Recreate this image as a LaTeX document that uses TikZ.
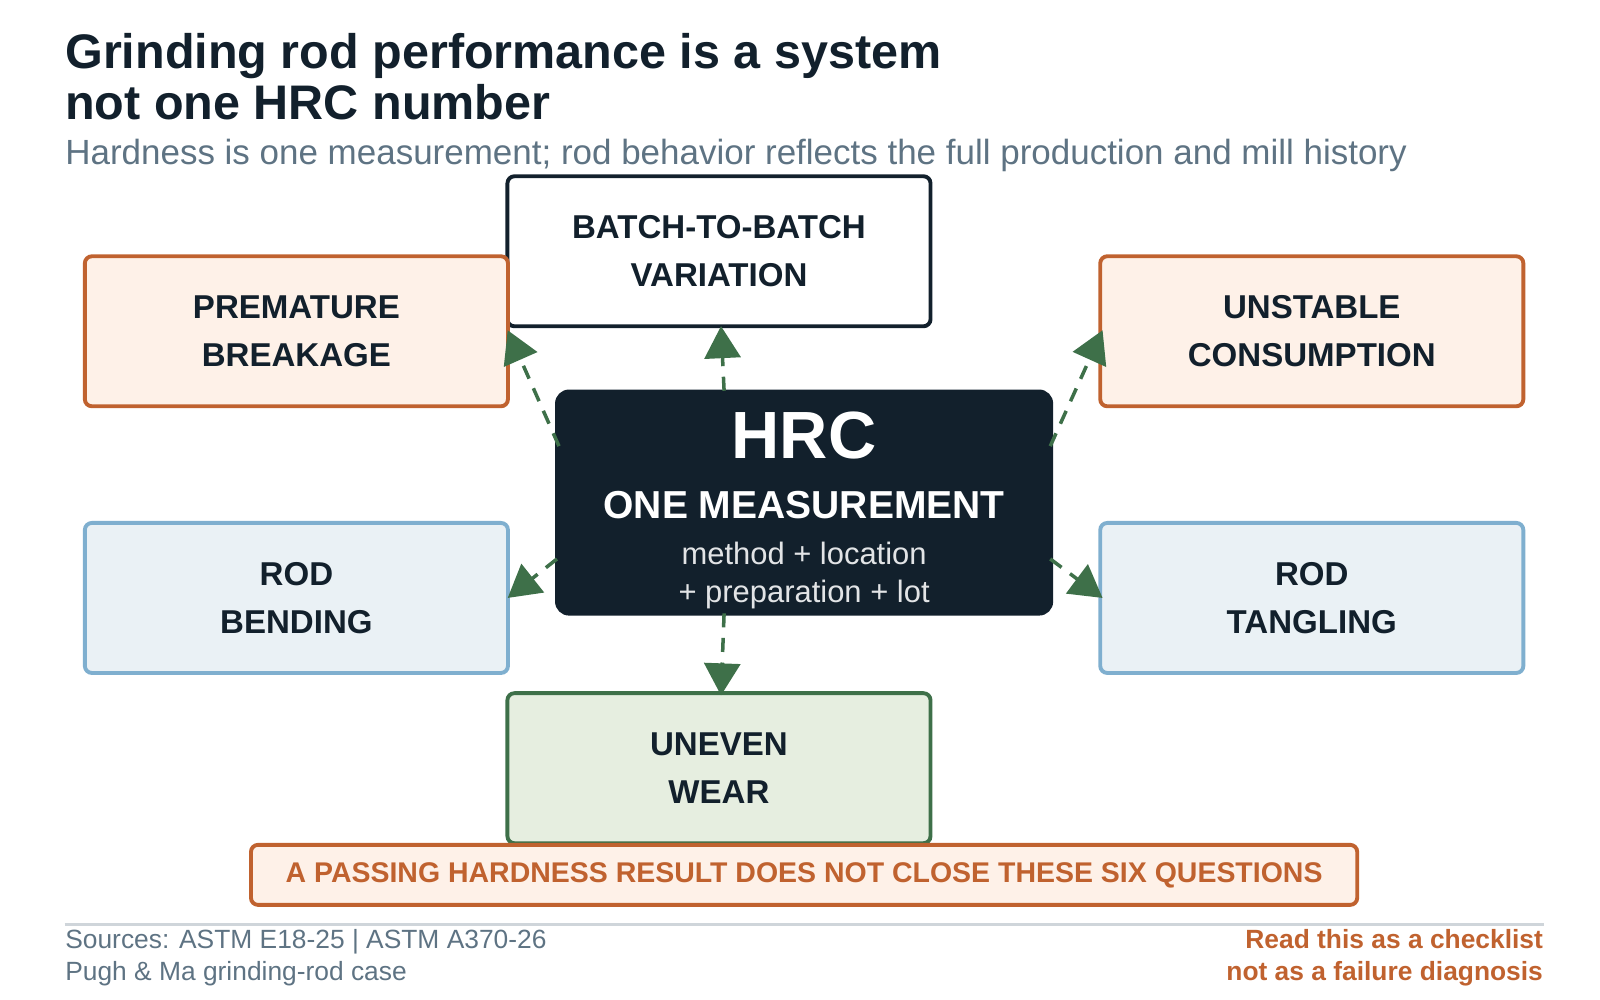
\documentclass[tikz,border=0pt]{standalone}
\usepackage{fontspec}
\setmainfont{Liberation Sans}
\usetikzlibrary{arrows.meta}
\definecolor{ink}{HTML}{12202C}
\definecolor{rust}{HTML}{C0622F}
\definecolor{rustbg}{HTML}{FEF1E8}
\definecolor{sky}{HTML}{7FAFCF}
\definecolor{skybg}{HTML}{EAF1F5}
\definecolor{moss}{HTML}{3E7049}
\definecolor{mossbg}{HTML}{E6EEE0}
\definecolor{slate}{HTML}{5E7383}
\tikzset{
  box/.style={draw, line width=1.1pt, rounded corners=2pt, minimum width=4.23cm, minimum height=1.5cm,
    align=center, font=\fontsize{9.4}{13.8}\selectfont\bfseries, text=ink},
  risk/.style={box, draw=rust, fill=rustbg},
  mech/.style={box, draw=sky, fill=skybg},
  link/.style={moss, line width=1pt, dash pattern=on 4pt off 3pt, -{Triangle[length=0.32cm,width=0.36cm]}}
}
\begin{document}
\begin{tikzpicture}[x=0.01026cm,y=-0.01026cm]
  \useasboundingbox (0,0) rectangle (1560,975);
  % heading
  \node[anchor=west, inner sep=0pt, font=\fontsize{13.8}{14.6}\selectfont\bfseries, text=ink, align=left] (title) at (63,75)
    {Grinding rod performance is a system\\not one HRC number};
  \node[anchor=west, inner sep=0pt, font=\fontsize{9.95}{11}\selectfont, text=slate] (sub) at (63,152)
    {Hardness is one measurement; rod behavior reflects the full production and mill history};
  % boxes
  \node[box, draw=ink, fill=white] (batch) at (701,245) {BATCH-TO-BATCH\\VARIATION};
  \node[risk] (break) at (289,323) {PREMATURE\\BREAKAGE};
  \node[risk] (consume) at (1279,323) {UNSTABLE\\CONSUMPTION};
  \node[mech] (bend) at (289,583) {ROD\\BENDING};
  \node[mech] (tangle) at (1279,583) {ROD\\TANGLING};
  \node[box, draw=moss, fill=mossbg] (wear) at (701,749) {UNEVEN\\WEAR};
  % center
  \node[fill=ink, rounded corners=4pt, minimum width=4.98cm, minimum height=2.26cm] (hrc) at (784,490) {};
  \node[text=white, font=\fontsize{19}{20}\selectfont\bfseries] (hrct) at (784,425) {HRC};
  \node[text=white, font=\fontsize{11.1}{12}\selectfont\bfseries] (hrcm) at (784,492) {ONE MEASUREMENT};
  \node[text=white!88!ink, font=\fontsize{8.8}{10.6}\selectfont, align=center] (hrcs) at (784,561)
    {method + location\\+ preparation + lot};
  % links
  \coordinate (pNW) at (545,435);
  \coordinate (pN) at (706,381);
  \coordinate (pNE) at (1024,435);
  \coordinate (pW) at (543,545);
  \coordinate (pE) at (1024,545);
  \coordinate (pS) at (706,598);
  \coordinate (qNW) at (495,322);
  \coordinate (qN) at (703,318);
  \coordinate (qNE) at (1075,322);
  \coordinate (qW) at (495,583);
  \coordinate (qE) at (1075,583);
  \coordinate (qS) at (703,678);
  \draw[link] (pNW) -- (qNW);
  \draw[link] (pN) -- (qN);
  \draw[link] (pNE) -- (qNE);
  \draw[link] (pW) -- (qW);
  \draw[link] (pE) -- (qE);
  \draw[link] (pS) -- (qS);
  % banner
  \node[draw=rust, fill=rustbg, line width=1.1pt, rounded corners=2pt, minimum width=11.06cm, minimum height=0.6cm,
    text=rust, font=\fontsize{8.1}{9}\selectfont\bfseries] (banner) at (784,853)
    {A PASSING HARDNESS RESULT DOES NOT CLOSE THESE SIX QUESTIONS};
  % footer
  \draw[slate!30, line width=0.8pt] (63,901) -- (1505,901);
  \node[anchor=north west, inner sep=0pt, text=slate, font=\fontsize{7.5}{9.2}\selectfont, align=left] (src) at (63,905)
    {Sources: ASTM E18-25 | ASTM A370-26\\Pugh \& Ma grinding-rod case};
  \node[anchor=north east, inner sep=0pt, text=rust, font=\fontsize{7.5}{9.2}\selectfont\bfseries, align=right] (note) at (1505,905)
    {Read this as a checklist\\not as a failure diagnosis};
\end{tikzpicture}
\end{document}
